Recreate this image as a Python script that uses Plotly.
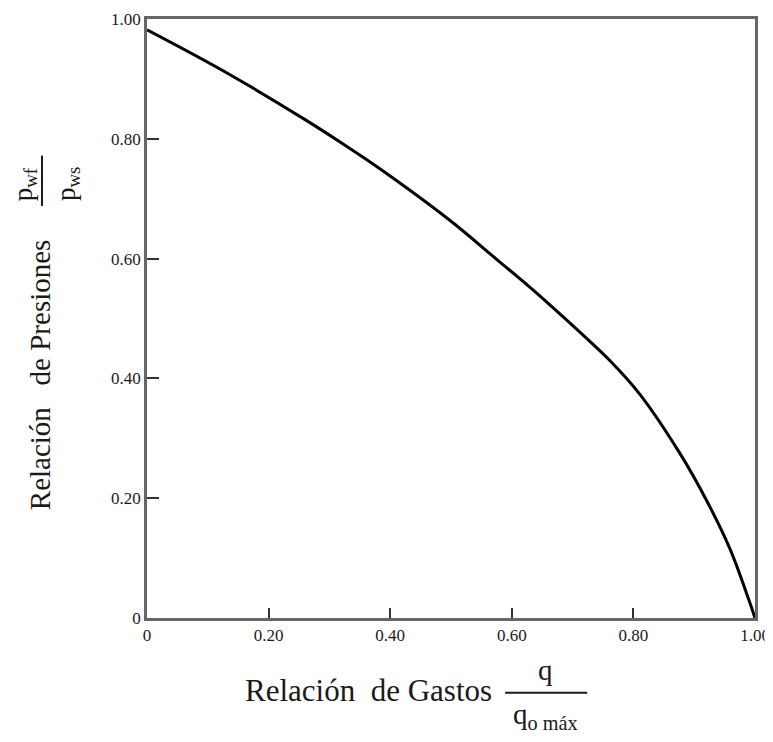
import plotly.graph_objects as go

# Curve data (Vogel-type IPR curve)
rate_ratio = [0.0, 0.128, 0.260, 0.317, 0.383, 0.498, 0.576, 0.630, 0.658, 0.724, 0.762,
              0.811, 0.877, 0.921, 0.959, 0.990, 1.0]
pressure_ratio = [0.982, 0.912, 0.832, 0.795, 0.750, 0.664, 0.598, 0.552, 0.527, 0.466, 0.429,
                  0.373, 0.274, 0.195, 0.115, 0.030, 0.0]

tick_vals = [0, 0.2, 0.4, 0.6, 0.8, 1.0]
tick_text = ["0", "0.20", "0.40", "0.60", "0.80", "1.00"]

SERIF = "Liberation Serif, Times New Roman, serif"
INK = "#1a1a1a"

fig = go.Figure()
fig.add_trace(go.Scatter(
    x=rate_ratio, y=pressure_ratio, mode="lines",
    line=dict(color="#000000", width=3, shape="spline", smoothing=1.0),
    cliponaxis=False, showlegend=False, hoverinfo="skip",
))

axis_common = dict(
    range=[0, 1], tickvals=tick_vals, ticktext=tick_text,
    ticks="inside", tickcolor="#333333", tickwidth=1.5,
    showline=True, linecolor="#666666", linewidth=2.5, mirror=True,
    showgrid=False, zeroline=False, automargin=False,
    ticklabeloverflow="allow",
)
fig.update_xaxes(**axis_common, ticklen=10, tickfont=dict(family=SERIF, size=17, color=INK))
fig.update_yaxes(**axis_common, ticklen=12, tickfont=dict(family=SERIF, size=17, color=INK))

annotations = [
    # x title
    dict(text="Relación&nbsp;&nbsp;de Gastos", x=0.365, y=-0.121, textangle=0,
         font=dict(family=SERIF, size=31, color=INK)),
    dict(text="q", x=0.656, y=-0.086, font=dict(family=SERIF, size=29, color=INK)),
    dict(text="q<sub>o máx</sub>", x=0.655, y=-0.163, font=dict(family=SERIF, size=29, color=INK)),
    # y title
    dict(text="Relación&nbsp;&nbsp;&nbsp;de Presiones", x=-0.176, y=0.407, textangle=-90,
         font=dict(family=SERIF, size=29, color=INK)),
    dict(text="p<sub>wf</sub>", x=-0.2007, y=0.724, textangle=-90,
         font=dict(family=SERIF, size=27, color=INK)),
    dict(text="p<sub>ws</sub>", x=-0.130, y=0.726, textangle=-90,
         font=dict(family=SERIF, size=27, color=INK)),
]
for a in annotations:
    a.update(xref="paper", yref="paper", showarrow=False, xanchor="center", yanchor="middle")

# page body adds an 8 px offset; size/margins compensate so the frame sits near 147..755 x 18..618
fig.update_layout(
    width=765, height=734,
    margin=dict(l=139, r=18, t=11, b=124),
    paper_bgcolor="white", plot_bgcolor="white",
    annotations=annotations,
    shapes=[
        dict(type="line", xref="paper", yref="paper", x0=0.589, x1=0.724, y0=-0.1246, y1=-0.1246,
             line=dict(color=INK, width=2)),
        dict(type="line", xref="paper", yref="paper", x0=-0.1727, x1=-0.1727, y0=0.688, y1=0.772,
             line=dict(color=INK, width=2)),
    ],
)

fig.write_html("out.html")
